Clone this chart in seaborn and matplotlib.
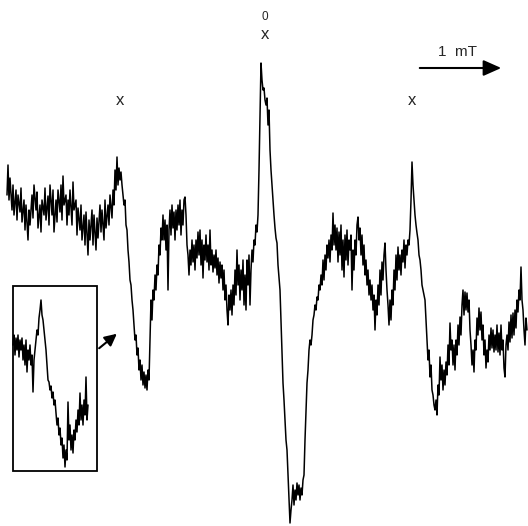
import matplotlib
matplotlib.use('Agg')
import matplotlib.pyplot as plt
import seaborn as sns
import pandas as pd

sns.set_theme(style='white')
plt.rcParams['font.family'] = ['Liberation Sans', 'DejaVu Sans']

# --- spectrum trace (x, y in picture pixels) ---
trace_x = [7, 8, 9, 10, 12, 13, 14, 16, 17, 18, 20, 21, 22, 24, 25, 26, 28, 29, 30, 32,
           33, 34, 36, 37, 38, 40, 41, 42, 44, 45, 46, 48, 49, 50, 52, 53, 54, 56, 57, 58,
           60, 61, 62, 63, 64, 66, 67, 68, 69, 70, 72, 73, 74, 76, 77, 78, 80, 81, 82, 84,
           85, 86, 88, 89, 90, 92, 93, 94, 96, 97, 98, 100, 101, 102, 104, 105, 106, 108, 109, 110,
           112, 113, 114, 115, 116, 117, 118, 119, 120, 121, 122, 123, 124, 125, 126, 127, 128, 129, 130, 131,
           132, 133, 134, 135, 136, 137, 138, 139, 140, 141, 142, 143, 144, 145, 146, 147, 148, 149, 150, 151,
           152, 153, 154, 155, 156, 157, 158, 159, 160, 161, 162, 163, 164, 165, 166, 167, 168, 169, 170, 171,
           172, 173, 174, 175, 176, 177, 178, 179, 180, 181, 182, 183, 184, 185, 186, 187, 188, 189, 190, 191,
           192, 193, 194, 195, 196, 197, 198, 199, 200, 201, 202, 203, 204, 205, 206, 207, 208, 209, 210, 211,
           212, 213, 214, 215, 216, 217, 218, 219, 220, 221, 222, 223, 224, 225, 226, 227, 228, 229, 230, 231,
           232, 233, 234, 235, 236, 237, 238, 239, 240, 241, 242, 243, 244, 245, 246, 247, 248, 249, 250, 251,
           252, 253, 254, 255, 256, 257, 258, 259, 260, 261, 262, 263, 264, 265, 266, 267, 268, 269, 270, 271,
           272, 273, 274, 275, 276, 277, 278, 279, 280, 281, 282, 283, 284, 285, 286, 287, 288, 289, 290, 291,
           292, 293, 294, 295, 296, 297, 298, 299, 300, 301, 302, 303, 304, 305, 306, 307, 308, 309, 310, 311,
           312, 313, 314, 315, 316, 317, 318, 319, 320, 321, 322, 323, 324, 325, 326, 327, 328, 329, 330, 331,
           332, 333, 334, 335, 336, 337, 338, 339, 340, 341, 342, 343, 344, 345, 346, 347, 348, 349, 350, 351,
           352, 353, 354, 355, 356, 357, 358, 359, 360, 361, 362, 363, 364, 365, 366, 367, 368, 369, 370, 371,
           372, 373, 374, 375, 376, 377, 378, 379, 380, 381, 382, 383, 384, 385, 386, 387, 388, 389, 390, 391,
           392, 393, 394, 395, 396, 397, 398, 399, 400, 401, 402, 403, 404, 405, 406, 407, 408, 409, 410, 411,
           412, 413, 414, 415, 416, 417, 418, 419, 420, 421, 422, 423, 424, 425, 426, 427, 428, 429, 430, 431,
           432, 433, 434, 435, 436, 437, 438, 439, 440, 441, 442, 443, 444, 445, 446, 447, 448, 449, 450, 451,
           452, 453, 454, 455, 456, 457, 458, 459, 460, 461, 462, 463, 464, 465, 466, 467, 468, 469, 470, 471,
           472, 473, 474, 475, 476, 477, 478, 479, 480, 481, 482, 483, 484, 485, 486, 487, 488, 489, 490, 491,
           492, 493, 494, 495, 496, 497, 498, 499, 500, 501, 502, 503, 504, 505, 506, 507, 508, 509, 510, 511,
           512, 513, 514, 515, 516, 517, 518, 519, 520, 521, 522, 523, 524, 525, 526, 527]
trace_y = [195, 165, 200, 178, 210, 185, 215, 190, 220, 195, 212, 188, 222, 200, 230, 205, 240, 210, 225, 195,
           218, 185, 210, 192, 228, 205, 232, 200, 215, 188, 220, 196, 225, 185, 215, 190, 232, 200, 222, 190,
           212, 185, 220, 176, 205, 195, 225, 200, 215, 190, 225, 182, 210, 200, 235, 208, 230, 205, 240, 215,
           245, 212, 255, 220, 240, 210, 245, 215, 250, 218, 238, 205, 232, 210, 240, 200, 228, 205, 225, 195,
           218, 190, 205, 170, 190, 157, 185, 168, 180, 172, 185, 195, 205, 200, 225, 230, 250, 262, 280, 285,
           300, 310, 325, 340, 335, 355, 348, 370, 360, 380, 365, 385, 372, 388, 375, 390, 370, 380, 340, 300,
           320, 290, 300, 275, 290, 265, 275, 245, 255, 228, 240, 215, 240, 220, 250, 225, 290, 230, 210, 235,
           205, 228, 212, 240, 210, 230, 205, 225, 200, 235, 210, 225, 200, 197, 215, 245, 255, 275, 250, 265,
           240, 262, 245, 270, 240, 258, 232, 255, 230, 265, 240, 278, 245, 260, 235, 262, 245, 270, 230, 265,
           250, 272, 255, 268, 250, 275, 258, 283, 262, 278, 265, 290, 270, 300, 285, 310, 325, 295, 310, 290,
           315, 285, 305, 270, 295, 250, 285, 265, 300, 270, 290, 260, 305, 275, 310, 260, 285, 255, 305, 270,
           250, 262, 240, 245, 225, 232, 215, 170, 117, 63, 80, 90, 88, 100, 105, 98, 125, 110, 150, 170,
           185, 200, 215, 228, 238, 243, 265, 278, 290, 320, 350, 383, 400, 420, 440, 450, 475, 500, 523, 510,
           500, 485, 505, 490, 500, 483, 495, 485, 500, 488, 495, 480, 475, 440, 410, 383, 370, 350, 340, 345,
           335, 320, 315, 305, 310, 297, 300, 285, 290, 275, 285, 260, 280, 255, 270, 245, 258, 240, 262, 235,
           250, 213, 245, 225, 250, 228, 262, 232, 255, 225, 270, 240, 277, 235, 260, 230, 265, 240, 250, 235,
           290, 250, 270, 240, 255, 225, 217, 240, 228, 255, 235, 265, 245, 275, 260, 285, 270, 295, 280, 300,
           285, 310, 295, 330, 300, 315, 285, 305, 270, 295, 262, 280, 255, 243, 270, 290, 305, 325, 300, 320,
           290, 305, 270, 290, 255, 280, 247, 270, 255, 275, 250, 262, 240, 268, 245, 255, 240, 245, 230, 200,
           162, 185, 200, 215, 225, 233, 240, 255, 260, 270, 285, 290, 295, 300, 320, 340, 360, 350, 377, 365,
           390, 395, 405, 410, 400, 415, 385, 395, 357, 380, 365, 390, 370, 385, 362, 375, 345, 365, 323, 350,
           340, 365, 345, 370, 340, 355, 325, 345, 317, 335, 305, 290, 315, 292, 310, 293, 312, 300, 330, 345,
           365, 350, 372, 340, 350, 318, 335, 308, 330, 312, 340, 325, 355, 340, 368, 350, 362, 335, 350, 328,
           348, 330, 352, 335, 350, 325, 352, 333, 355, 325, 350, 340, 368, 377, 345, 335, 350, 322, 342, 315,
           338, 313, 335, 310, 328, 300, 312, 290, 300, 267, 300, 310, 330, 345, 318, 330]

# --- enlarged detail shown in the inset box ---
inset_x = [13, 14, 15, 16, 17, 18, 19, 20, 21, 22, 23, 24, 25, 26, 27, 28, 29, 30, 31, 32,
           33, 34, 35, 36, 37, 38, 39, 40, 41, 42, 43, 44, 45, 46, 47, 48, 49, 50, 51, 52,
           53, 54, 55, 56, 57, 58, 59, 60, 61, 62, 63, 64, 65, 66, 67, 68, 69, 70, 71, 72,
           73, 74, 75, 76, 77, 78, 79, 80, 81, 82, 83, 84, 85, 86, 87, 88]
inset_y = [345, 335, 355, 338, 350, 335, 357, 340, 350, 338, 360, 345, 365, 340, 372, 350, 360, 345, 365, 355,
           392, 360, 350, 340, 330, 335, 318, 310, 300, 315, 320, 330, 340, 350, 365, 380, 382, 390, 386, 398,
           392, 405, 400, 413, 425, 418, 435, 428, 445, 438, 458, 445, 467, 450, 460, 402, 440, 425, 450, 435,
           453, 430, 440, 420, 432, 410, 425, 393, 420, 405, 425, 400, 415, 377, 420, 405]

# line positions marked above the spectrum
marker_x = [120, 265, 412]
marker_labels = ['x', 'x', 'x']

main = pd.DataFrame({'x': trace_x, 'y': trace_y})
inset = pd.DataFrame({'x': inset_x, 'y': inset_y})

fig = plt.figure(figsize=(5.28, 5.26), dpi=100)
ax = fig.add_axes([0, 0, 1, 1])

sns.lineplot(data=main, x='x', y='y', ax=ax, color='black', lw=1.1, sort=False, estimator=None)
sns.lineplot(data=inset, x='x', y='y', ax=ax, color='black', lw=1.1, sort=False, estimator=None)

# inset frame and pointer
ax.add_patch(plt.Rectangle((13, 286), 84, 185, fill=False, ec='black', lw=1.3))
ax.annotate('', xy=(119, 332), xytext=(97, 350),
            arrowprops=dict(arrowstyle='-|>,head_length=0.6,head_width=0.3', color='black', lw=1.5))

# markers
for mx, lab in zip(marker_x, marker_labels):
    yy = 39 if mx == 265 else 105
    ax.text(mx, yy, lab, ha='center', va='baseline', fontsize=12)
ax.text(265, 20.5, '0', ha='center', va='baseline', fontsize=8.5)

# field scale
ax.annotate('', xy=(504, 68), xytext=(417, 68),
            arrowprops=dict(arrowstyle='-|>,head_length=0.9,head_width=0.4', color='black', lw=1.5))
ax.text(457, 52, '1  mT', ha='center', va='center', fontsize=11)

ax.set_xlim(0, 528)
ax.set_ylim(526, 0)
ax.set_axis_off()

plt.savefig('out.png', dpi=100)
plt.close()
